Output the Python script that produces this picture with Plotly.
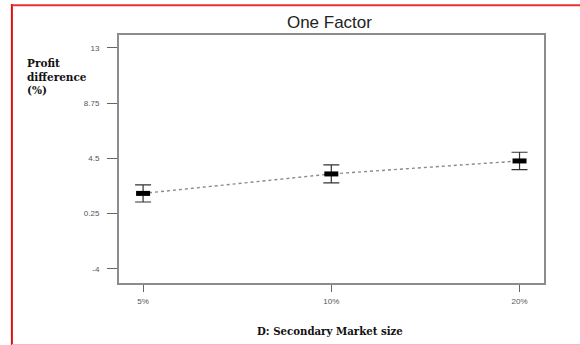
import plotly.graph_objects as go

# Secondary market size levels and predicted profit difference (%)
levels = ["5%", "10%", "20%"]
profit_diff = [1.8, 3.3, 4.3]
ci_half = [0.66, 0.69, 0.67]

y_ticks = [13, 8.75, 4.5, 0.25, -4]
y_tick_text = ["13", "8.75", "4.5", "0.25", "-4"]

fig = go.Figure()

# dotted effect line connecting the means
fig.add_trace(go.Scatter(
    x=levels, y=profit_diff, mode="lines",
    line=dict(color="#8a8a8a", width=1.4, dash="dot"),
    hoverinfo="skip", showlegend=False,
))

# mean markers with least-significant-difference bars
fig.add_trace(go.Scatter(
    x=levels, y=profit_diff, mode="markers",
    marker=dict(symbol="line-ew", size=10, line=dict(color="black", width=5)),
    error_y=dict(type="data", array=ci_half, visible=True,
                 color="#333333", thickness=1.2, width=8),
    showlegend=False,
))

serif = "DejaVu Serif, Liberation Serif, serif"

fig.update_layout(
    width=580, height=345,
    margin=dict(l=119, r=36, t=35, b=62),
    paper_bgcolor="white", plot_bgcolor="white",
    title=dict(text="One Factor", x=0.568, xanchor="center", y=0.936, yanchor="middle",
               font=dict(family="Liberation Sans, Arial", size=17, color="#222")),
    xaxis=dict(
        type="category", range=[-0.128, 2.13],
        showgrid=False, zeroline=False,
        showline=True, linecolor="#8c8c8c", linewidth=2, mirror=True,
        ticks="outside", ticklen=7, tickcolor="#666", tickwidth=1,
        ticklabelstandoff=2,
        tickfont=dict(family="Liberation Sans, Arial", size=8, color="#555"),
    ),
    yaxis=dict(
        range=[-5.1, 14.0],
        tickvals=y_ticks, ticktext=y_tick_text,
        showgrid=False, zeroline=False,
        showline=True, linecolor="#8c8c8c", linewidth=2, mirror=True,
        ticks="outside", ticklen=10, tickcolor="#666", tickwidth=1,
        ticklabelstandoff=6,
        tickfont=dict(family="Liberation Sans, Arial", size=8, color="#555"),
    ),
    annotations=[
        dict(text="<b>Profit<br>difference<br>(%)</b>", xref="paper", yref="paper",
             x=-0.222, y=0.833, xanchor="left", yanchor="middle", align="left",
             showarrow=False,
             font=dict(family=serif, size=10.5, color="#111")),
        dict(text="<b>D: Secondary Market size</b>", xref="paper", yref="paper",
             x=0.496, y=-0.195, xanchor="center", yanchor="middle",
             showarrow=False,
             font=dict(family=serif, size=10.2, color="#111")),
    ],
    shapes=[
        # red frame around the figure
        dict(type="line", xref="paper", yref="paper", x0=-0.252, x1=-0.252, y0=1.125, y1=-0.25,
             line=dict(color="#e01010", width=2)),
        dict(type="line", xref="paper", yref="paper", x0=-0.252, x1=1.1, y0=1.12, y1=1.12,
             line=dict(color="#e83030", width=2)),
        dict(type="line", xref="paper", yref="paper", x0=-0.252, x1=1.1, y0=-0.25, y1=-0.25,
             line=dict(color="#f6b8c0", width=2)),
    ],
)

fig.write_html("out.html")
